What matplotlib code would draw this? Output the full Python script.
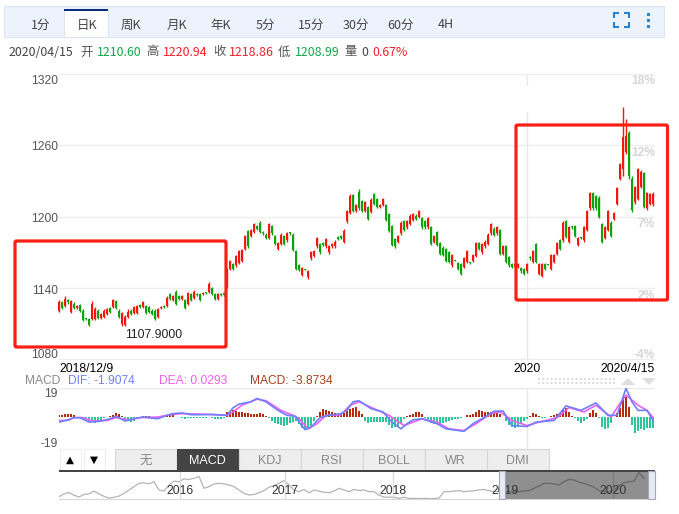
import numpy as np
import matplotlib
matplotlib.use('Agg')
import matplotlib.pyplot as plt
from matplotlib.patches import Rectangle, FancyBboxPatch

W, H = 679, 514
CJK = ['Noto Sans CJK SC', 'DejaVu Sans']
plt.rcParams['font.family'] = ['Liberation Sans', 'DejaVu Sans']

# daily candles, 2018/12/9 -> 2020/4/15
opens = [1121,1128,1125,1130,1120,1127,1123,1126,1121,1115,
 1114,1114,1114,1121,1115,1116,1118,1123,1124,1129,
 1121,1110,1109,1116,1121,1119,1119,1126,1124,1125,
 1124,1121,1121,1116,1123,1125,1125,1135,1130,1137,
 1133,1131,1130,1127,1135,1132,1135,1135,1135,1137,
 1137,1140,1135,1131,1135,1136,1141,1156,1160,1159,
 1161,1163,1173,1188,1184,1187,1192,1195,1187,1185,
 1182,1192,1184,1173,1177,1184,1180,1187,1185,1171,
 1159,1151,1156,1149,1165,1167,1175,1177,1178,1175,
 1170,1175,1175,1183,1184,1179,1196,1203,1218,1205,
 1221,1213,1205,1208,1204,1219,1215,1208,1210,1210,
 1202,1192,1181,1179,1186,1196,1191,1194,1197,1201,
 1200,1199,1196,1191,1191,1179,1187,1178,1174,1173,
 1170,1159,1164,1161,1160,1158,1162,1162,1163,1167,
 1178,1170,1175,1177,1186,1190,1186,1189,1169,1175,
 1166,1160,1158,1158,1157,1156,1154,1166,1162,1177,
 1152,1150,1160,1160,1156,1162,1169,1180,1180,1196,
 1179,1192,1192,1176,1183,1180,1189,1207,1220,1217,
 1216,1194,1182,1189,1195,1198,1211,1232,1240,1254,
 1270,1232,1212,1215,1225,1237,1207,1211,1210.6]
closes = [1128,1123,1131,1128,1129,1123,1125,1121,1113,1114,
 1109,1127,1122,1115,1118,1121,1122,1120,1130,1123,
 1116,1119,1116,1120,1118,1124,1125,1124,1128,1119,
 1120,1118,1114,1122,1124,1124,1132,1131,1133,1127,
 1131,1133,1123,1136,1130,1137,1134,1130,1136,1136,
 1143,1135,1131,1135,1134,1134,1156,1163,1156,1167,
 1171,1172,1184,1175,1189,1194,1190,1187,1186,1182,
 1194,1186,1177,1178,1185,1177,1186,1186,1172,1156,
 1155,1157,1155,1154,1170,1171,1182,1170,1176,1181,
 1175,1177,1179,1181,1182,1188,1205,1217,1205,1210,
 1207,1205,1212,1198,1214,1211,1208,1210,1215,1197,
 1188,1176,1175,1184,1195,1189,1196,1201,1202,1198,
 1205,1191,1191,1199,1177,1184,1176,1169,1168,1163,
 1162,1168,1163,1156,1152,1165,1171,1161,1168,1178,
 1173,1177,1179,1185,1194,1185,1191,1169,1175,1162,
 1159,1158,1160,1160,1154,1152,1160,1165,1171,1162,
 1160,1160,1156,1159,1168,1168,1178,1173,1195,1183,
 1191,1191,1184,1182,1182,1191,1205,1220,1207,1207,
 1200,1179,1191,1205,1184,1203,1224,1244,1267,1268,
 1234,1206,1225,1240,1238,1208,1220,1219,1218.86]
highs = [1130,1129,1133,1131,1130,1128,1126,1127,1122,1115,
 1115,1129,1124,1122,1119,1122,1123,1124,1131,1130,
 1122,1120,1117,1122,1122,1125,1126,1127,1129,1126,
 1125,1122,1122,1123,1125,1126,1133,1136,1134,1138,
 1134,1134,1131,1137,1136,1138,1136,1136,1137,1137,
 1145,1141,1136,1136,1136,1137,1157,1164,1161,1168,
 1172,1173,1185,1189,1190,1195,1193,1196,1188,1186,
 1195,1193,1185,1179,1186,1185,1187,1187,1186,1172,
 1160,1158,1156,1155,1171,1172,1183,1178,1179,1182,
 1176,1178,1180,1184,1185,1190,1206,1219,1219,1211,
 1223,1214,1213,1209,1216,1220,1216,1211,1216,1211,
 1203,1193,1182,1185,1196,1197,1197,1202,1203,1202,
 1206,1200,1197,1200,1192,1185,1188,1179,1175,1174,
 1171,1169,1164,1162,1161,1166,1172,1162,1169,1179,
 1179,1178,1180,1186,1195,1191,1192,1190,1176,1176,
 1167,1161,1161,1161,1158,1157,1161,1167,1172,1178,
 1161,1161,1161,1160,1169,1169,1179,1181,1196,1197,
 1192,1192,1193,1183,1183,1192,1206,1221,1221,1218,
 1217,1195,1192,1206,1196,1204,1225,1245,1292.5,1282,
 1272,1234,1226,1241,1239,1238,1221,1220,1220.94]
lows = [1120,1122,1124,1127,1119,1122,1122,1120,1112,1113,
 1108,1113,1113,1114,1114,1115,1117,1119,1123,1122,
 1115,1108,1107.9,1115,1117,1118,1118,1123,1123,1118,
 1119,1117,1113,1115,1122,1123,1124,1130,1129,1126,
 1130,1130,1122,1126,1129,1131,1133,1129,1134,1135,
 1136,1134,1130,1130,1133,1133,1140,1155,1155,1158,
 1160,1162,1172,1174,1183,1186,1189,1186,1185,1181,
 1181,1185,1176,1172,1176,1176,1179,1185,1171,1155,
 1154,1150,1155,1148,1164,1166,1174,1169,1175,1174,
 1169,1174,1174,1180,1181,1178,1195,1202,1204,1204,
 1206,1204,1204,1197,1203,1210,1207,1207,1209,1196,
 1187,1175,1174,1178,1185,1188,1190,1193,1196,1197,
 1199,1190,1190,1190,1176,1178,1175,1168,1167,1162,
 1161,1158,1163,1155,1151,1157,1161,1160,1162,1166,
 1172,1169,1174,1176,1185,1184,1185,1168,1168,1161,
 1158,1157,1157,1157,1153,1151,1153,1164,1161,1161,
 1151,1149,1155,1159,1155,1161,1168,1172,1179,1182,
 1178,1190,1183,1175,1181,1179,1188,1206,1206,1206,
 1199,1178,1181,1188,1183,1197,1210,1231,1234,1253,
 1232,1204,1211,1214,1224,1207,1206,1210,1208.99]

price_ticks = [1320, 1260, 1200, 1140, 1080]
pct_labels = ['18%', '12%', '7%', '2%', '-4%']
year_2020_idx = 156

# macd histogram
hist = [1.5,1.8,2,2.2,2.4,1.5,.5,.2,-.3,-1,
 -2,-2.6,-3.3,-2.5,-1.5,-.3,.3,1,1.6,2.6,
 2.4,1,-.8,-2.5,-3,-2,-.8,.2,.8,1,
 .8,.3,-.5,-1.2,-.3,.5,1,1.5,1.5,.5,
 .2,-.3,-.8,-.5,-.3,-.2,-.4,-.5,-.4,-.3,
 .2,-.4,-.9,-1,-.8,-.4,3.5,4.5,4.6,4.3,
 3.5,3.3,2.8,2.6,2.4,2,2.4,2.6,2.2,1,
 -.5,-2.5,-3.8,-4.3,-5,-5.5,-5,-3.8,-3,-2.5,
 -4.5,-7,-7.5,-6.8,-5.5,-2,1,3.5,5.6,5,
 4,3.3,2.6,1.8,2,3,4.5,5.5,6.3,6.5,
 4,2.4,-2.5,-3.8,-3,-2.6,-2.8,-2.6,-3,-3.2,
 -5,-6.5,-6.2,-6,-4.5,-1,.8,1.5,2.5,3.7,
 3.5,2,-.3,-1.5,-3.5,-3.9,-4.2,-4.4,-3.8,-3,
 -2.3,-1.5,-1.2,-1,-.6,.3,1.5,1.8,2,3.4,
 4.8,4.2,3.7,3.6,3.7,3.8,3.4,2,.3,-2,
 -5,-6,-6.7,-6,-4,-2.2,-1,.8,2.6,2,
 .8,-.3,-.2,.3,.8,1.4,2.2,3.2,5.5,6,
 3.5,1,-.6,-2.5,-3.3,-2.5,-1,3,4.8,3,
 -.5,-6,-7.2,-6.5,-3.5,.5,3,6,13,13,
 7,-5,-10,-8.5,-7.5,-7.8,-7,-6.5,-7]
dif_idx = [0,3,5,7,10,14,17,19,20,22,25,28,31,33,36,38,41,44,47,51,56,58,60,64,66,69,73,76,79,80,82,84,87,90,94,
 96,98,100,104,108,111,114,116,118,121,126,129,135,138,141,145,148,151,156,159,165,169,174,179,183,186,189,191,193,196,198]
dif_vals = [-3,-1.5,-.1,-.1,-3,-2.3,-.8,.7,-.1,-2.3,-.8,.3,-.4,-.8,1.4,2.5,2.9,1.8,1.8,2,1.4,6.2,8.6,10.1,12.3,10.1,4.6,1.4,.7,-3,-7.8,-6.3,-.1,1.4,2.5,
 4.6,10.1,10.8,5.7,3.6,-3,-7.3,-4,-1.5,-.8,-4,-7.3,-8.9,-4,-.8,4,4.2,-5.2,-5.8,-3,-1.9,7.5,4.6,9.4,1.4,1.4,18.8,10.1,4.6,4.6,-1.9]
dea_idx = [0,3,5,8,11,16,19,23,27,33,37,41,47,56,58,61,66,69,74,78,80,83,86,89,94,
 97,100,105,110,115,118,121,126,130,135,139,144,147,151,156,160,166,170,175,179,184,187,189,193,196,198]
dea_vals = [-1.9,-1.9,-.1,-.1,-2.3,-1.9,-.1,-1.5,-.1,.3,1.8,2.5,2.2,1.4,3.6,7.9,11.8,10.8,4.6,1.4,-.8,-7.3,-4,1.4,1.8,
 7.9,10.1,5.7,1.4,-5.2,-3,-.8,-3,-7.3,-8.4,-4,2.5,3.6,-1.9,-5.2,-3,-.1,6.4,3.6,7.9,.3,9,14.5,7.9,4.6,.03]

# overview strip, closes from 2015 on
mini_vals = [1075,1100,1112,1088,1072,1095,1100,1125,1100,1078,1062,1070,1080,1105,1135,1165,1195,1200,1190,1210,
 1135,1125,1180,1215,1210,1235,1230,1240,1258,1150,1165,1190,1195,1190,1180,1165,1135,1105,1090,1095,
 1110,1130,1160,1175,1195,1220,1180,1135,1120,1140,1110,1135,1125,1115,1110,1125,1150,1135,1120,1140,
 1130,1135,1120,1120,1090,1070,1070,1070,1060,1070,1058,1060,1058,1060,1058,1058,1062,1120,1120,1125,
 1130,1120,1125,1128,1135,1140,1130,1120,1120,1120,1120,1120,1120,1125,1130,1150,1170,1195,1195,1190,
 1180,1210,1230,1225,1205,1195,1180,1160,1130,1120,1115,1135,1175,1200,1210,1215,1290,1240]
mini_years = ['2016', '2017', '2018', '2019', '2020']
mini_year_idx = [24.2, 45.2, 66.8, 89.2, 110.8]

tab_labels = ['1分', '日K', '周K', '月K', '年K', '5分', '15分', '30分', '60分', '4H']
tab_x = [41, 87, 131, 177, 221, 265, 311, 356, 401, 446]
ind_labels = ['无', 'MACD', 'KDJ', 'RSI', 'BOLL', 'WR', 'DMI']

RED = '#f5160c'
GREEN = '#0aa30a'


def px_axes(fig, left, top, right, bottom):
    return fig.add_axes([left / W, 1 - bottom / H, (right - left) / W, (bottom - top) / H])


fig = plt.figure(figsize=(W / 100, H / 100), dpi=100)

# price panel
ax = px_axes(fig, 59, 74, 655, 360)
ax.set_xlim(0, 198.67)
ax.set_ylim(1079.5, 1320)
ax.axis('off')
for v in price_ticks:
    ax.axhline(v, color='#eeeeee', lw=1, zorder=1)
ax.plot([year_2020_idx] * 2, [1320, 1311], color='#e8e8e8', lw=1, zorder=1)
ax.plot([year_2020_idx] * 2, [1288, 1079.5], color='#e8e8e8', lw=1, zorder=1)
# labels sit on the gridline except the two at the ends, which are pushed inside
price_off = [-5, -1.2, -1.4, -2, 3.3]
pct_off = [-5, -5.4, -5.4, -5.4, 3.3]
for v, p, dy, dy2 in zip(price_ticks, pct_labels, price_off, pct_off):
    ax.annotate(str(v), (0, v), xycoords=('axes fraction', 'data'), xytext=(-1, dy), textcoords='offset points',
                ha='right', va='center', fontsize=8.64, color='#555555', annotation_clip=False)
    ax.annotate(p, (1, v), xycoords=('axes fraction', 'data'), xytext=(0, dy2), textcoords='offset points',
                ha='right', va='center', fontsize=8.64, fontweight='bold', color='#d6d6d6', annotation_clip=False)
idx = np.arange(len(closes))
o = np.array(opens)
c = np.array(closes)
colors = [RED if c[i] >= o[i] else GREEN for i in idx]
ax.vlines(idx, lows, highs, colors=colors, lw=1.0, zorder=3, clip_on=False)
ax.bar(idx, np.abs(c - o), bottom=np.minimum(o, c), width=0.68, color=colors, zorder=3, clip_on=False)

# macd panel
ax2 = px_axes(fig, 59, 388, 655, 449)
ax2.set_xlim(0, 198.67)
ax2.set_ylim(-20.3, 19)
ax2.axis('off')
ax2.axhline(19, color='#e8e8e8', lw=1)
ax2.axvline(year_2020_idx, color='#e8e8e8', lw=1)
for v, dy in [(19, -4.3), (-19, 2.2)]:
    ax2.annotate(str(v), (0, v), xycoords=('axes fraction', 'data'), xytext=(-1, dy), textcoords='offset points',
                 ha='right', va='center', fontsize=8.64, color='#555555', annotation_clip=False)
h = np.array(hist)
ax2.bar(np.arange(len(h)), h, width=0.85, color=['#b5290c' if v > 0 else '#2cc49b' for v in h], zorder=2)
ax2.plot(dea_idx, dea_vals, color='#f060ee', lw=1.2, zorder=3)
ax2.plot(dif_idx, dif_vals, color='#6d80ff', lw=1.2, zorder=4)

# overview strip
ax3 = px_axes(fig, 59, 471, 655, 499)
ax3.set_xlim(0, 119.2)
ax3.set_ylim(1054, 1306)
ax3.set_xticks([])
ax3.set_yticks([])
for s in ax3.spines.values():
    s.set_visible(False)
ax3.spines['bottom'].set_visible(True)
ax3.spines['bottom'].set_color('#d8d8d8')
ax3.plot(np.arange(len(mini_vals)), mini_vals, color='#b4b4b4', lw=0.9)
for t, xp in zip(mini_years, mini_year_idx):
    ax3.axvline(xp, color='#dddddd', lw=1)
    ax3.text(xp, 0.3, t, transform=ax3.get_xaxis_transform(), ha='center', va='center',
             fontsize=8.8, color='#333333', zorder=5)
ax3.axvspan(89.2, 117.8, color='black', alpha=0.44, lw=0, zorder=4)

# everything around the panels, in pixels
ui = fig.add_axes([0, 0, 1, 1], zorder=5)
ui.set_xlim(0, W)
ui.set_ylim(H, 0)
ui.axis('off')
ui.patch.set_alpha(0)

ui.add_patch(Rectangle((4, 5.5), 660, 31, fc='#ecf3fd', ec='#dbe5f2', lw=0.8))
ui.add_patch(Rectangle((64, 9), 44, 28, fc='white', ec='#dbe5f2', lw=0.8))
ui.add_patch(Rectangle((64, 9), 44, 2, fc='#0b2a80', ec='none'))
for t, xp in zip(tab_labels, tab_x):
    ui.text(xp, 25, t, ha='center', va='center', fontsize=9, family=CJK, color='#444444')
blue = '#2a84d2'
x0, x1, y0, y1 = 613.5, 628.5, 13, 27
for xs, ys in [([x0, x0, x0 + 5], [y0 + 5, y0, y0]), ([x1 - 5, x1, x1], [y0, y0, y0 + 5]),
               ([x0, x0, x0 + 5], [y1 - 5, y1, y1]), ([x1 - 5, x1, x1], [y1, y1, y1 - 5])]:
    ui.plot(xs, ys, color=blue, lw=1.5, solid_joinstyle='miter', solid_capstyle='butt')
for yp in [13, 19, 25]:
    ui.add_patch(Rectangle((646.5, yp), 3.2, 3.2, fc=blue, ec='none'))

grey = '#555555'
green_t = '#12a84a'
red_t = '#f5202c'
info = [(9, '2020/04/15', '#444444'), (80, '开', grey), (97, '1210.60', green_t), (146, '高', grey),
        (163, '1220.94', red_t), (213, '收', grey), (229, '1218.86', red_t), (278, '低', grey),
        (295, '1208.99', green_t), (344, '量', grey), (361, '0', '#444444'), (372, '0.67%', red_t)]
for xp, t, col in info:
    ui.text(xp, 52, t, ha='left', va='center', fontsize=8.9, family=CJK, color=col)

ui.text(154, 335, '1107.9000', ha='center', va='center', fontsize=8.7, color='#222222')
ui.text(59, 369, '2018/12/9', ha='left', va='center', fontsize=8.7, color='black')
ui.text(527, 369, '2020', ha='center', va='center', fontsize=8.7, color='black')
ui.text(655, 369, '2020/4/15', ha='right', va='center', fontsize=8.7, color='black')

for xp, t, col in [(25, 'MACD', '#888888'), (68, 'DIF: -1.9074', '#6d80ff'), (159, 'DEA: 0.0293', '#f060ee'),
                   (250, 'MACD: -3.8734', '#a8401f')]:
    ui.text(xp, 380.5, t, ha='left', va='center', fontsize=8.64, color=col)

for yp in [378.5, 382.5]:
    ui.plot([538, 615], [yp, yp], color='#dddddd', lw=1.5, ls=(0, (1, 1)))
ui.fill([621, 635, 628], [385, 385, 378], color='#dedede', lw=0)
ui.fill([642, 656, 649], [378, 378, 385], color='#dedede', lw=0)

# indicator buttons
for xp in [59.5, 83.5]:
    ui.add_patch(Rectangle((xp, 448.5), 21, 21, fc='white', ec='#eeeeee', lw=0.8))
ui.text(70, 459.5, '▲', ha='center', va='center', fontsize=7.5, family='DejaVu Sans', color='black')
ui.text(94, 459.5, '▼', ha='center', va='center', fontsize=7.5, family='DejaVu Sans', color='black')
for i, t in enumerate(ind_labels):
    xl = 114.5 + 62 * i
    on = t == 'MACD'
    ui.add_patch(Rectangle((xl, 448.5), 62, 21, fc='#444444' if on else '#eeeeee',
                           ec='#444444' if on else '#d6d6d6', lw=0.8))
    ui.text(xl + 31, 460.5, t, ha='center', va='center', fontsize=9, family=CJK if t == '无' else None,
            color='white' if on else '#888888')
ui.add_patch(Rectangle((59, 470), 596, 2, fc='#444444', ec='none'))

# selection handles of the strip
for xl in [498.5, 648]:
    ui.add_patch(Rectangle((xl, 470.5), 6.5, 28, fc='#e9ebf2', ec='#a4a8bc', lw=0.8))

# hand drawn highlight boxes
for xl, yt, xr, yb in [(15, 241, 226, 347), (516, 125, 667.5, 300)]:
    ui.add_patch(FancyBboxPatch((xl, yt), xr - xl, yb - yt, boxstyle='round,pad=0,rounding_size=1.5',
                                fc='none', ec='#fb2016', lw=2.3))

fig.savefig('out.png', dpi=100)
